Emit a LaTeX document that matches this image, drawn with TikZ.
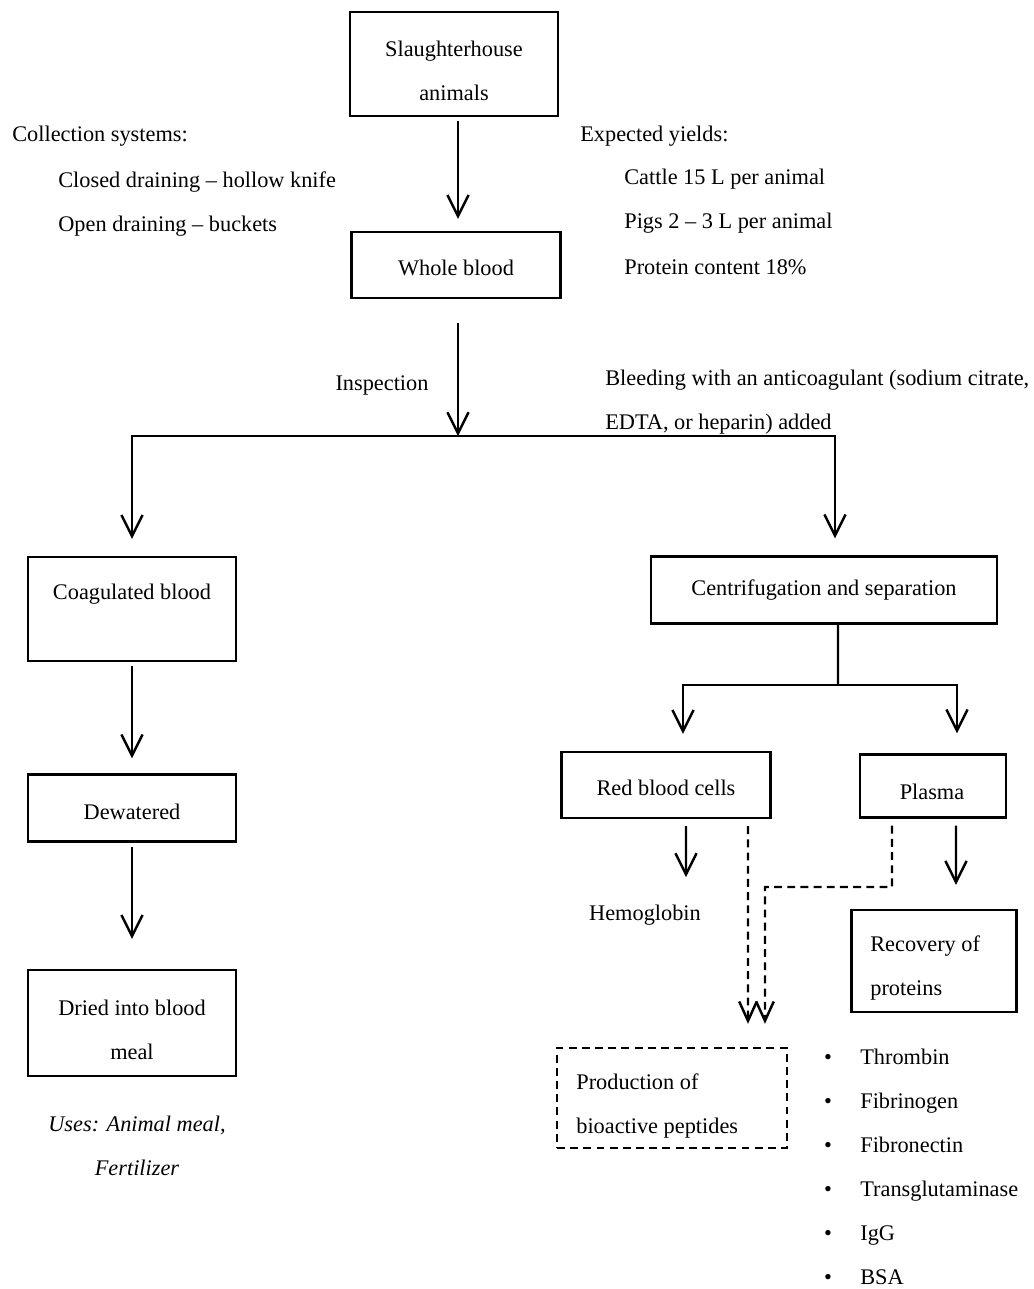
\documentclass[tikz,border=0pt]{standalone}
\usepackage{fontspec}
\setmainfont{Liberation Serif}
\usetikzlibrary{arrows.meta}
\tikzset{
  box/.style={draw, line width=1.4pt, inner sep=0pt},
  txt/.style={inner sep=0pt, font=\fontsize{12.7}{25}\selectfont},
  arr/.style={line width=1.4pt, -{Straight Barb[length=12pt,width=12pt]}},
  dsh/.style={line width=1.4pt, dash pattern=on 4.5pt off 3pt},
  dsharr/.style={dsh, -{Straight Barb[length=11pt,width=10pt]}},
}
\begin{document}
\begin{tikzpicture}[x=0.02cm,y=-0.02cm]
	\useasboundingbox (0,0) rectangle (1034,1289);
	
	% boxes
	\node[box, minimum width=4.16cm, minimum height=2.08cm] (slaughter) at (454,64) {};
	\node[box, minimum width=4.18cm, minimum height=1.32cm] (whole) at (456,265) {};
	\node[box, minimum width=4.16cm, minimum height=2.08cm] (coag) at (132,609) {};
	\node[box, minimum width=4.16cm, minimum height=1.34cm] (dewat) at (132,808) {};
	\node[box, minimum width=4.16cm, minimum height=2.12cm] (dried) at (132,1023) {};
	\node[box, minimum width=6.92cm, minimum height=1.34cm] (centri) at (824,590) {};
	\node[box, minimum width=4.18cm, minimum height=1.32cm] (rbc) at (666,785) {};
	\node[box, minimum width=2.92cm, minimum height=1.26cm] (plasma) at (933,786) {};
	\node[box, minimum width=3.3cm, minimum height=2.04cm] (recov) at (934,961) {};
	\node[box, dsh, minimum width=4.6cm, minimum height=2.0cm] (peptid) at (672,1098) {};
	
	% box texts
	\node[txt, align=center] (slaughtertxt) at (454,71) {Slaughterhouse\\animals};
	\node[txt] (wholetxt) at (456,268) {Whole blood};
	\node[txt] (coagtxt) at (132,594) {Coagulated blood};
	\node[txt] (dewattxt) at (132,812) {Dewatered};
	\node[txt, align=center] (driedtxt) at (132,1030) {Dried into blood\\meal};
	\node[txt] (centritxt) at (824,590) {Centrifugation and separation};
	\node[txt] (rbctxt) at (666,788) {Red blood cells};
	\node[txt] (plasmatxt) at (932,792) {Plasma};
	\node[txt, anchor=west, align=left] (recovtxt) at (870,968) {Recovery of\\proteins};
	\node[txt, anchor=west, align=left] (peptidtxt) at (576,1106) {Production of\\bioactive peptides};
	
	% side notes
	\node[txt, anchor=west] (collect) at (12,136) {Collection systems:};
	\node[txt, anchor=west] (closed) at (58,182) {Closed draining – hollow knife};
	\node[txt, anchor=west] (open) at (58,226) {Open draining – buckets};
	\node[txt, anchor=west] (yields) at (580,136) {Expected yields:};
	\node[txt, anchor=west] (cattle) at (624,179) {Cattle 15 L per animal};
	\node[txt, anchor=west] (pigs) at (624,223) {Pigs 2 – 3 L per animal};
	\node[txt, anchor=west] (protein) at (624,267) {Protein content 18\%};
	\node[txt] (inspect) at (382,385) {Inspection};
	\node[txt, anchor=west, align=left] (bleed) at (605,402) {Bleeding with an anticoagulant (sodium citrate,\\EDTA, or heparin) added};
	\node[txt] (hemo) at (645,915) {Hemoglobin};
	\node[txt, align=center, font=\fontsize{12.7}{25}\selectfont\itshape] (uses) at (137,1146) {Uses: Animal meal,\\Fertilizer};
	
	\foreach \name [count=\i from 0] in {Thrombin, Fibrinogen, Fibronectin, Transglutaminase, IgG, BSA}{
		\node[txt, anchor=base] (dot\i) at (828,1064+44.1*\i) {\textbullet};
		\node[txt, anchor=base west] (prot\i) at (860,1064+44.1*\i) {\name};
	}
	
	% connectors
	\coordinate (split) at (458,436);
	\coordinate (branch) at (838,685);
	\coordinate (hemotop) at (686,877);
	\coordinate (elbow) at (765,887);
	
	\draw[arr, shorten <=0.08cm, shorten >=0.24cm] (split |- slaughter.south) -- (split |- whole.north);
	\draw[arr, shorten <=0.48cm] (split |- whole.south) -- (split);
	\draw[arr, shorten >=0.34cm] (split) -| (coag.north);
	\draw[arr, shorten >=0.34cm] (split) -| ([xshift=0.22cm]centri.north);
	\draw[arr, shorten <=0.08cm, shorten >=0.3cm] (coag) -- (dewat);
	\draw[arr, shorten <=0.08cm, shorten >=0.6cm] (dewat) -- (dried);
	
	\draw[line width=1.4pt] ([xshift=0.28cm]centri.south) -- (branch);
	\draw[arr, shorten >=0.34cm] (branch) -| ([xshift=0.34cm]rbc.north);
	\draw[arr, shorten >=0.4cm] (branch) -| ([xshift=0.48cm]plasma.north);
	\draw[arr, shorten <=0.14cm] ([xshift=0.4cm]rbc.south) -- (hemotop);
	\draw[arr, shorten <=0.14cm, shorten >=0.48cm] ([xshift=0.46cm]plasma.south) -- ([xshift=0.44cm]recov.north);
	\draw[dsharr, shorten <=0.14cm, shorten >=0.46cm] ([xshift=1.64cm]rbc.south) -- ([xshift=1.52cm]peptid.north);
	\draw[dsharr, shorten <=0.14cm, shorten >=0.46cm] ([xshift=-0.82cm]plasma.south) |- (elbow) -- ([xshift=1.86cm]peptid.north);
\end{tikzpicture}
\end{document}
